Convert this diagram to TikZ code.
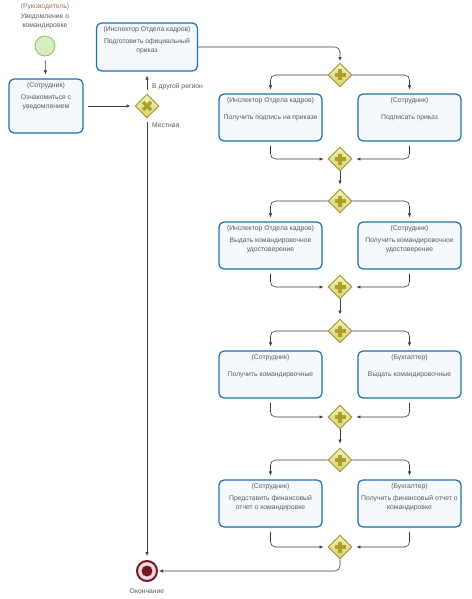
\documentclass[tikz,border=0pt]{standalone}
\usepackage{fontspec}
\setmainfont{Liberation Sans}
\usetikzlibrary{positioning}
\usetikzlibrary{shapes.geometric}
\usetikzlibrary{calc}
\usetikzlibrary{arrows.meta}
\definecolor{taskline}{RGB}{31,110,168}
\definecolor{taskfill}{RGB}{245,249,253}
\definecolor{gatefill}{RGB}{216,210,116}
\definecolor{gatetop}{RGB}{242,240,186}
\definecolor{gateline}{RGB}{160,150,48}
\definecolor{gatemark}{RGB}{172,160,40}
\definecolor{startfill}{RGB}{214,238,190}
\definecolor{startline}{RGB}{140,190,110}
\definecolor{endred}{RGB}{122,22,36}
\definecolor{flowline}{RGB}{60,60,60}
\definecolor{txt}{RGB}{88,88,88}
\definecolor{lanetxt}{RGB}{160,112,80}
\newcommand{\tasktext}[3]{\node[role] (#1r) at ($(#1.north)+(0,7)$) {#2};
    \node[body] (#1b) at ($(#1.north)+(0,24)$) {#3};}
\tikzset{
    task/.style = {rectangle,draw=taskline,fill=taskfill,line width=1.2pt,rounded corners=5pt,minimum width=103pt,minimum height=47pt,inner sep=0pt},
    role/.style = {text=txt,font=\fontsize{6.8}{9}\selectfont,inner sep=0pt},
    body/.style = {role,align=center},
    gate/.style = {diamond,draw=gateline,top color=gatetop,bottom color=gatefill,line width=0.9pt,minimum width=24pt,minimum height=24pt,inner sep=0pt},
    gatesign/.style = {draw=gatemark,line width=3.2pt},
    startev/.style = {circle,draw=startline,fill=startfill,line width=0.8pt,minimum size=20pt,inner sep=0pt},
    endev/.style = {circle,draw=endred,fill=white!85!endred,line width=2pt,minimum size=20pt,inner sep=0pt},
    flow/.style = {draw=flowline,line width=0.6pt,rounded corners=5pt,shorten <=4pt,shorten >=4pt,-{Latex[length=4pt,width=3.5pt]}}}
\begin{document}
\begin{tikzpicture}[x=1pt,y=-1pt]
    \useasboundingbox (0,0) rectangle (471,599);
    \path (45,7) node[role,text=lanetxt] (lane) {(Руководитель)}
        + (0,14) node[body] (note) {Уведомление о\\командировке}
        + (0,39) node[startev] (start) {}
        + (1,99) node[task,minimum width=74pt,minimum height=54pt] (ta) {}
        ++ (102,99) node[gate] (gx) {}
        + (0,-59) node[task,minimum width=101pt,minimum height=48pt] (t0) {}
        + (0,465) node[endev] (stop) {}
        + (0,485) node[role] (stoptxt) {Окончание};
    \path (340,75) node[gate] (s1) {}
        + (0,84) node[gate] (j1) {}
        + (0,126) node[gate] (s2) {}
        + (0,212) node[gate] (j2) {}
        + (0,256) node[gate] (s3) {}
        + (0,342) node[gate] (j3) {}
        + (0,385) node[gate] (s4) {}
        + (0,472) node[gate] (j4) {};
    \path (270.5,117.5) node[task] (l1) {}
        + (0,128) node[task] (l2) {}
        + (0,257) node[task] (l3) {}
        + (0,386) node[task] (l4) {}
        ++ (139,0) node[task] (r1) {}
        + (0,128) node[task] (r2) {}
        + (0,257) node[task] (r3) {}
        + (0,386) node[task] (r4) {};
    \fill[endred] (stop) circle (5.5);
    \tasktext{ta}{(Сотрудник)}{Ознакомиться с\\уведомлением}
    \tasktext{t0}{(Инспектор Отдела кадров)}{Подготовить официальный\\приказ}
    \tasktext{l1}{(Инспектор Отдела кадров)}{Получить подпись на приказе}
    \tasktext{r1}{(Сотрудник)}{Подписать приказ}
    \tasktext{l2}{(Инспектор Отдела кадров)}{Выдать командировочное\\удостоверение}
    \tasktext{r2}{(Сотрудник)}{Получить командировочное\\удостоверение}
    \tasktext{l3}{(Сотрудник)}{Получить командирвочные}
    \tasktext{r3}{(Бухгалтер)}{Выдать командировочные}
    \tasktext{l4}{(Сотрудник)}{Представить финансовый\\отчет о командировке}
    \tasktext{r4}{(Бухгалтер)}{Получить финансовый отчет о\\командировке}
    \draw[gatesign] ($(gx)+(-4,-4)$) -- ($(gx)+(4,4)$) ($(gx)+(-4,4)$) -- ($(gx)+(4,-4)$);
    \foreach \g in {s1,j1,s2,j2,s3,j3,s4,j4}
        \draw[gatesign] ($(\g)+(-5.5,0)$) -- ($(\g)+(5.5,0)$) ($(\g)+(0,-5.5)$) -- ($(\g)+(0,5.5)$);
    \node[role,anchor=west] (other) at (152,87) {В другой регион};
    \node[role,anchor=west] (local) at (152,125) {Местная};
    \draw[flow] (start) -- (ta);
    \draw[flow] (ta) -- (gx);
    \draw[flow] (gx) -- (t0);
    \draw[flow] (gx) -- (stop);
    \draw[flow,shorten <=0pt,shorten >=1.5pt] (t0.east) -| (s1.north);
    \foreach \r in {1,...,4} {
        \draw[flow,shorten <=0pt] (s\r.west) -| (l\r.north);
        \draw[flow,shorten <=0pt] (s\r.east) -| (r\r.north);
        \draw[flow] (l\r.south) |- (j\r.west);
        \draw[flow] (r\r.south) |- (j\r.east);}
    \foreach \r/\n in {1/2,2/3,3/4}
        \draw[flow,shorten <=0pt] (j\r.south) -- (s\n.north);
    \draw[flow,shorten <=0pt,shorten >=1pt] (j4.south) |- (stop.east);
\end{tikzpicture}
\end{document}
